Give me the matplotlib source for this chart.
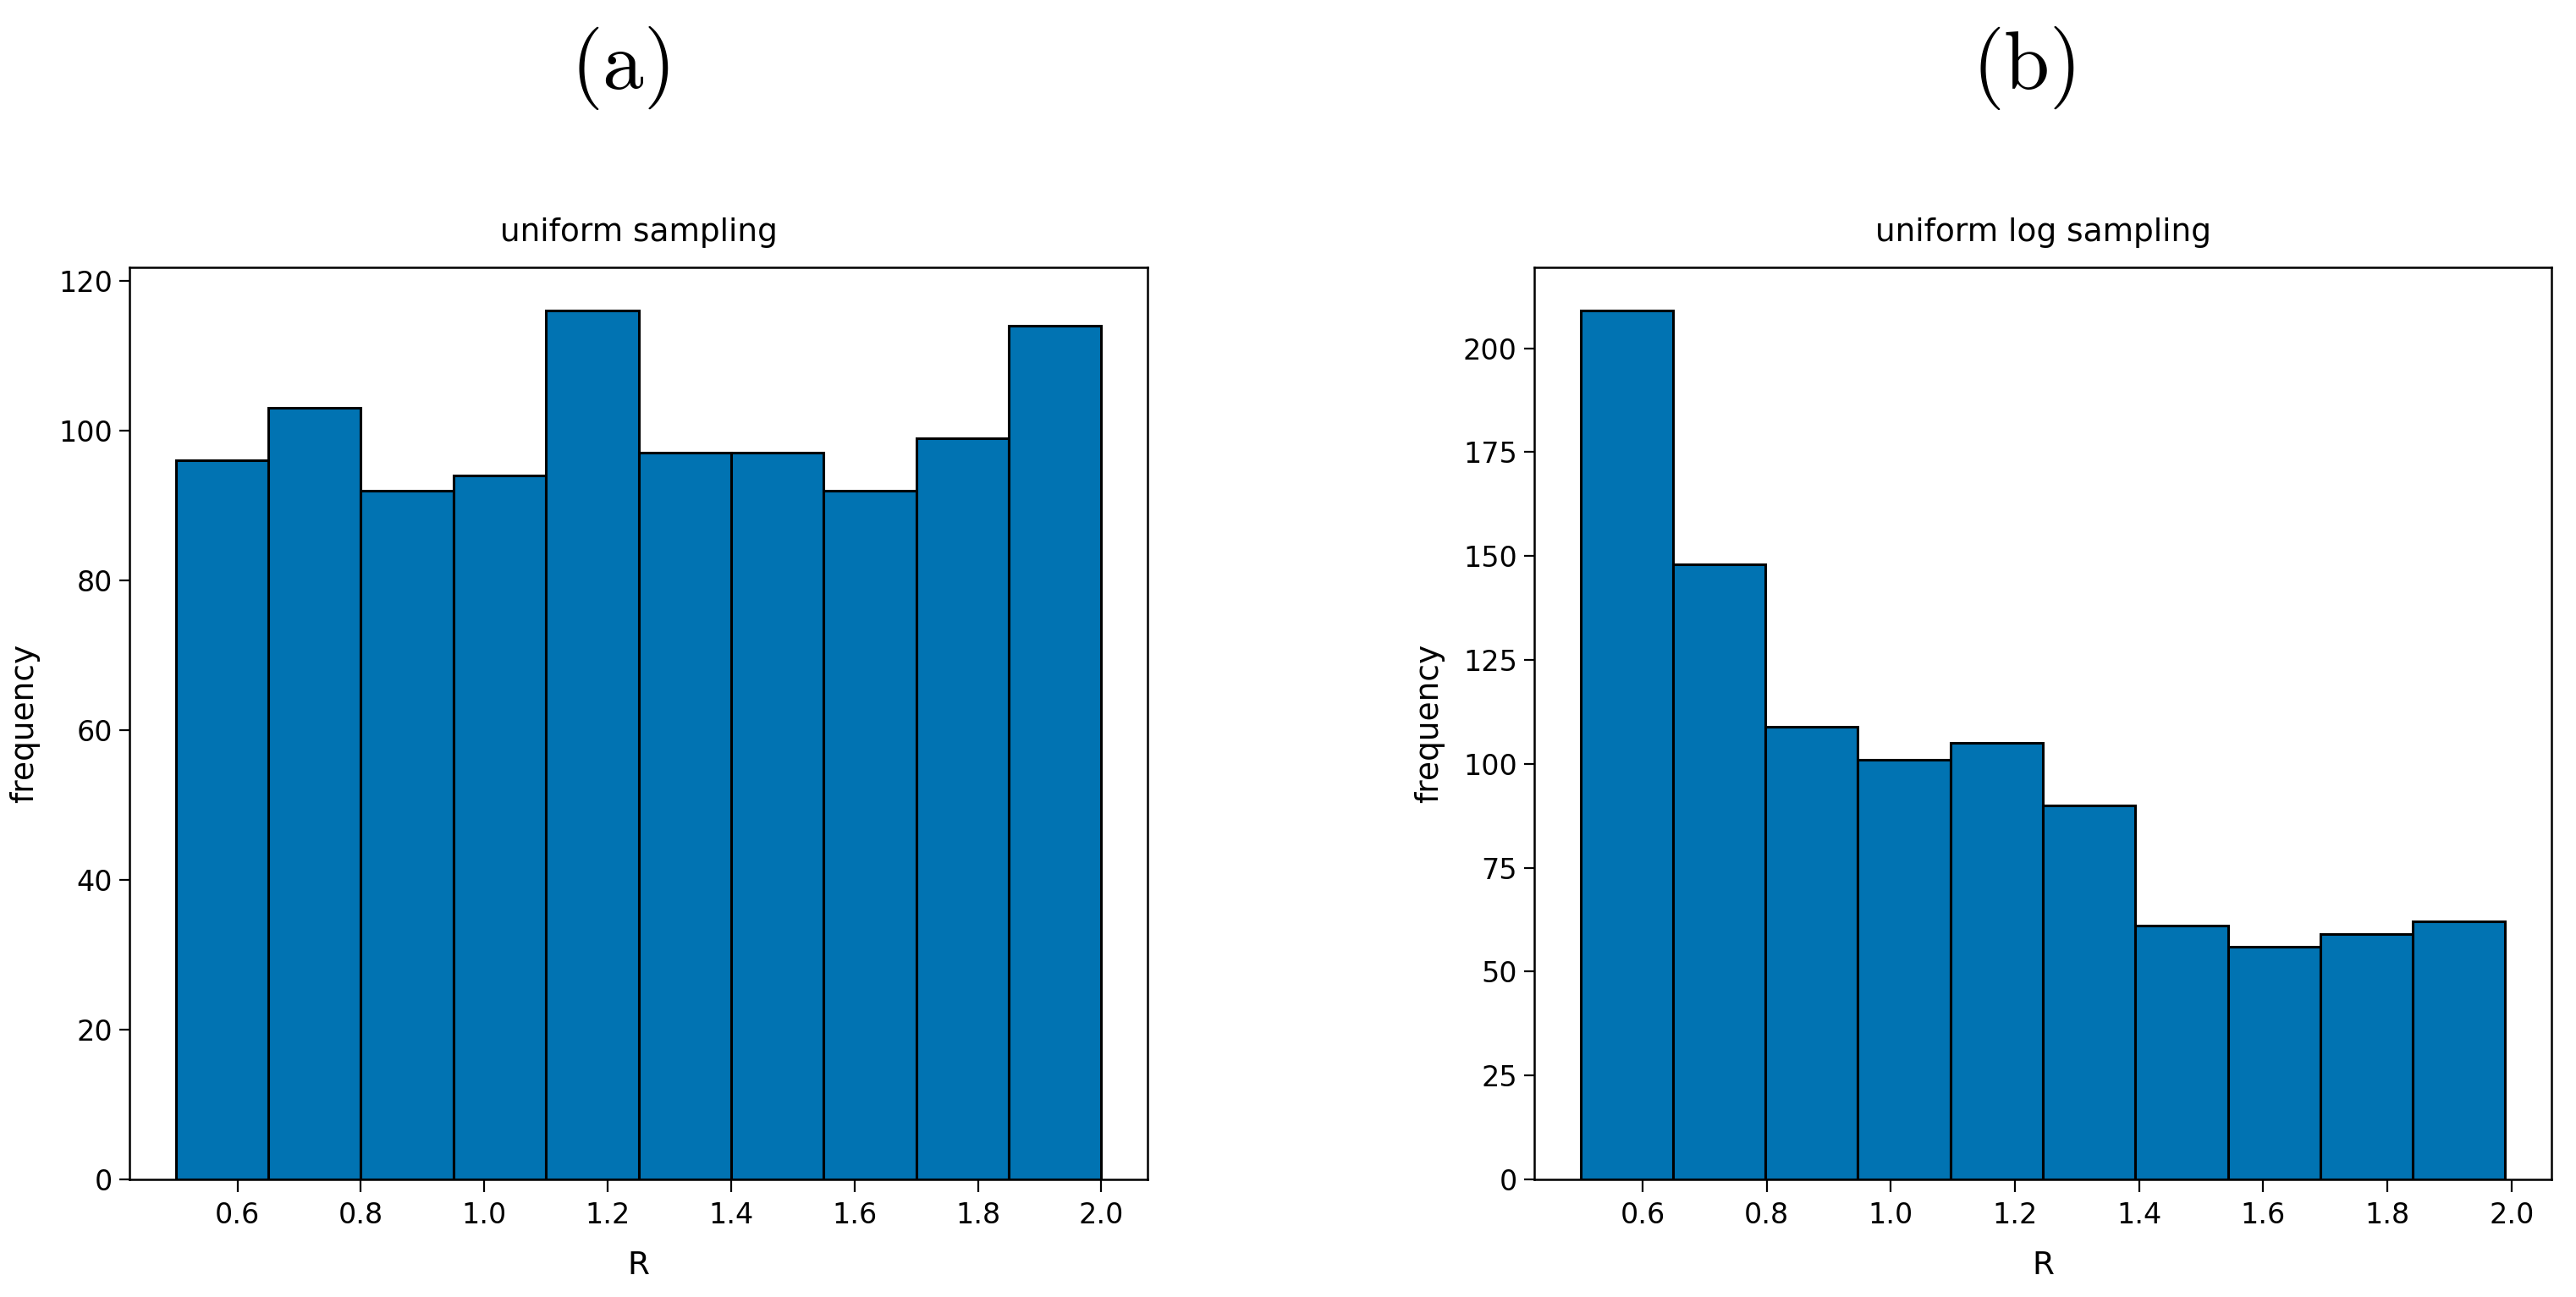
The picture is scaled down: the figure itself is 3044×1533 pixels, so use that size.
import matplotlib
matplotlib.use("Agg")
import matplotlib.pyplot as plt
import numpy as np

# ---- data ----
edges_a = [0.5, 0.65, 0.8, 0.95, 1.1, 1.25, 1.4, 1.55, 1.7, 1.85, 2.0]
counts_a = [96, 103, 92, 94, 116, 97, 97, 92, 99, 114]
edges_b = [0.5, 0.649, 0.798, 0.947, 1.096, 1.245, 1.394, 1.543, 1.692, 1.841, 1.99]
counts_b = [209, 148, 109, 101, 105, 90, 61, 56, 59, 62]
titles = ["uniform sampling", "uniform log sampling"]
panel_labels = ["(a)", "(b)"]
xticks = [0.6, 0.8, 1.0, 1.2, 1.4, 1.6, 1.8, 2.0]
yticks_a = [0, 20, 40, 60, 80, 100, 120]
yticks_b = [0, 25, 50, 75, 100, 125, 150, 175, 200]

bar_color = "#0173b2"

plt.rcParams["font.family"] = ["DejaVu Sans"]
plt.rcParams["mathtext.fontset"] = "cm"

W, H = 3044, 1533
fig = plt.figure(figsize=(W / 100, H / 100), dpi=100)

axes_px = [(153, 1356), (1813, 3015)]
top_px, bot_px = 316, 1394

data = [(edges_a, counts_a, yticks_a), (edges_b, counts_b, yticks_b)]
label_x = [732, 2391]

for i, ((x0, x1), (edges, counts, yt)) in enumerate(zip(axes_px, data)):
    ax = fig.add_axes([x0 / W, (H - bot_px) / H, (x1 - x0) / W, (bot_px - top_px) / H])
    e = np.array(edges)
    ax.hist(e[:-1], bins=e, weights=counts, color=bar_color,
            edgecolor="black", linewidth=2.2)
    ax.set_xticks(xticks)
    ax.set_xticklabels([f"{v:.1f}" for v in xticks])
    ax.set_yticks(yt)
    ax.tick_params(axis="x", labelsize=24, length=11, width=1.6, pad=8)
    ax.tick_params(axis="y", labelsize=24, length=8.5, width=1.6, pad=6)
    for s in ax.spines.values():
        s.set_linewidth(1.8)
    ax.set_title(titles[i], fontsize=27, pad=22)
    ax.set_xlabel("R", fontsize=27, labelpad=18)
    ax.set_ylabel("frequency", fontsize=27, labelpad=16)
    fig.text(label_x[i] / W, 1 - 80 / H, r"$\mathrm{" + panel_labels[i] + "}$",
             fontsize=70, ha="center", va="center")

fig.savefig("out.png", dpi=100, facecolor="white")
